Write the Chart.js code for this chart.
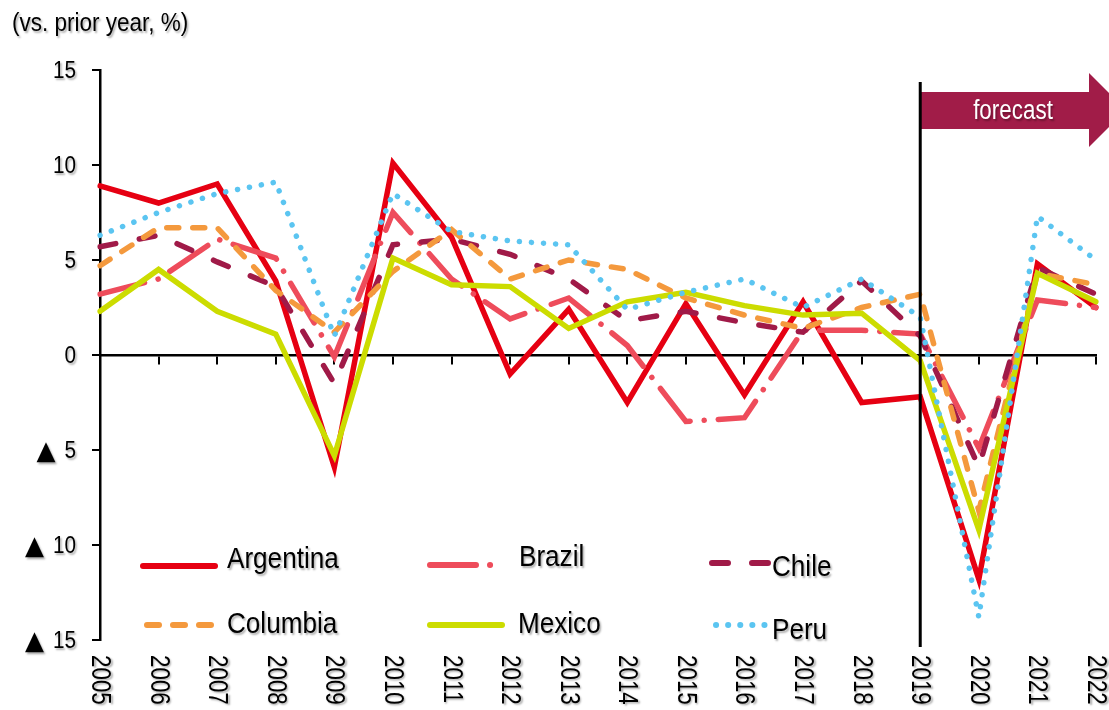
<!DOCTYPE html>
<html>
<head>
<meta charset="utf-8">
<script src="https://cdn.jsdelivr.net/npm/chart.js@4/dist/chart.umd.min.js"></script>
<style>
  html, body { margin: 0; padding: 0; background: #ffffff; }
  #wrap { width: 1109px; height: 710px; }
</style>
</head>
<body>
<div id="wrap"><canvas id="c" width="1109" height="710"></canvas></div>
<script>
// Real GDP growth, vs. prior year (%)
const years = ['2005','2006','2007','2008','2009','2010','2011','2012','2013','2014','2015','2016','2017','2018','2019','2020','2021','2022'];
const argentina = [8.9, 8.0, 9.0, 3.9, -5.9, 10.1, 6.2, -1.0, 2.4, -2.5, 2.7, -2.1, 2.8, -2.5, -2.2, -11.8, 4.8, 2.5];
const brazil    = [3.2, 4.0, 6.1, 5.1, -0.1, 7.5, 4.0, 1.9, 3.0, 0.5, -3.5, -3.3, 1.3, 1.3, 1.1, -4.9, 2.9, 2.5];
const chile     = [5.7, 6.3, 4.9, 3.6, -1.5, 5.8, 6.1, 5.3, 4.0, 1.8, 2.3, 1.7, 1.2, 3.9, 1.0, -5.9, 4.6, 3.2];
const columbia  = [4.7, 6.7, 6.7, 3.4, 1.2, 4.4, 6.6, 4.0, 5.0, 4.5, 3.0, 2.1, 1.4, 2.5, 3.2, -8.2, 4.3, 3.7];
const mexico    = [2.3, 4.5, 2.3, 1.1, -5.3, 5.1, 3.7, 3.6, 1.4, 2.8, 3.3, 2.6, 2.1, 2.2, -0.3, -9.2, 4.3, 2.8];
const peru      = [6.3, 7.5, 8.5, 9.1, 1.0, 8.5, 6.5, 6.0, 5.8, 2.4, 3.3, 4.0, 2.5, 4.0, 2.0, -13.8, 7.3, 5.0];
// tick values and their printed text; negatives carry a ▲ marker
const yTicks = [15, 10, 5, 0, -5, -10, -15];
const yTickText = ['15', '10', '5', '0', '5', '10', '15'];
const negMark = '\u25B2';
const forecastFrom = '2019';

const FONT = "'Liberation Sans', Arial, Helvetica, sans-serif";

const series = [
  { label: 'Argentina', data: argentina, color: '#E60012', dash: [],               order: 6, lx: 143, ly: 566, lw: 72, tx: 227, ty: 568 },
  { label: 'Brazil',    data: brazil,    color: '#EE4C5B', dash: [46, 14, 0.1, 14], order: 5, lx: 430, ly: 565, lw: 61, tx: 519, ty: 566 },
  { label: 'Chile',     data: chile,     color: '#A01A48', dash: [16, 24],          order: 4, lx: 712, ly: 563, lw: 58, tx: 772, ty: 576 },
  { label: 'Columbia',  data: columbia,  color: '#F4993D', dash: [12, 14],          order: 3, lx: 147, ly: 625, lw: 64, tx: 227, ty: 633 },
  { label: 'Mexico',    data: mexico,    color: '#CCDC00', dash: [],                order: 2, lx: 430, ly: 625, lw: 72, tx: 518, ty: 633 },
  { label: 'Peru',      data: peru,      color: '#5BC5F1', dash: [0.1, 12],         order: 1, lx: 716, ly: 625, lw: 54, tx: 772, ty: 639 }
];

// Draws condensed text (horizontal squeeze sx) with a soft drop shadow
function narrowText(ctx, text, x, y, size, sx, align, color, rot, family) {
  ctx.save();
  ctx.translate(x, y);
  if (rot) ctx.rotate(rot);
  ctx.scale(sx, 1);
  ctx.font = size + 'px ' + (family || FONT);
  ctx.textAlign = align;
  ctx.textBaseline = 'alphabetic';
  ctx.fillStyle = color;
  ctx.shadowColor = 'rgba(0,0,0,0.32)';
  ctx.shadowOffsetX = 1.5;
  ctx.shadowOffsetY = 1.5;
  ctx.shadowBlur = 2;
  ctx.fillText(text, 0, 0);
  const w = ctx.measureText(text).width * sx;
  ctx.restore();
  return w;
}

const decorations = {
  id: 'decorations',
  afterDatasetsDraw(chart) {
    const ctx = chart.ctx;
    const xs = chart.scales.x, ys = chart.scales.y;
    const fx = xs.getPixelForValue(years.indexOf(forecastFrom));
    // forecast arrow
    ctx.save();
    ctx.fillStyle = '#A11C48';
    ctx.beginPath();
    ctx.moveTo(fx, 92);
    ctx.lineTo(1089, 92);
    ctx.lineTo(1089, 73);
    ctx.lineTo(1126, 110);
    ctx.lineTo(1089, 147);
    ctx.lineTo(1089, 129);
    ctx.lineTo(fx, 129);
    ctx.closePath();
    ctx.fill();
    ctx.restore();
    narrowText(ctx, 'forecast', 1013, 119, 27, 0.83, 'center', '#ffffff');
    // forecast divider
    ctx.save();
    ctx.strokeStyle = '#000000';
    ctx.lineWidth = 3;
    ctx.beginPath();
    ctx.moveTo(fx, 82);
    ctx.lineTo(fx, ys.bottom + 7);
    ctx.stroke();
    ctx.restore();
  },
  afterDraw(chart) {
    const ctx = chart.ctx;
    const xs = chart.scales.x, ys = chart.scales.y;
    // unit caption
    narrowText(ctx, '(vs. prior year, %)', 12, 31, 25, 0.9, 'left', '#000000');
    // y tick labels
    yTicks.forEach((v, i) => {
      const py = ys.getPixelForValue(v);
      const w = narrowText(ctx, yTickText[i], 76, py + 8.3, 23, 0.9, 'right', '#000000');
      if (v < 0) {
        narrowText(ctx, negMark, 76 - w - 9, py + 9, 26, 0.95, 'right', '#000000', 0, "'DejaVu Sans', sans-serif");
      }
    });
    // x tick labels, rotated to read downward
    years.forEach((yr, i) => {
      const px = xs.getPixelForValue(i);
      narrowText(ctx, yr, px - 8, 655, 28, 0.8, 'left', '#000000', Math.PI / 2);
    });
    // legend
    series.forEach(s => {
      ctx.save();
      ctx.strokeStyle = s.color;
      ctx.lineWidth = 6;
      ctx.lineCap = 'round';
      ctx.setLineDash(s.dash);
      ctx.beginPath();
      ctx.moveTo(s.lx, s.ly);
      ctx.lineTo(s.lx + s.lw, s.ly);
      ctx.stroke();
      ctx.restore();
      narrowText(ctx, s.label, s.tx, s.ty, 30, 0.87, 'left', '#000000');
    });
  }
};

new Chart(document.getElementById('c'), {
  type: 'line',
  data: {
    labels: years,
    datasets: series.map(s => ({
      label: s.label,
      data: s.data,
      borderColor: s.color,
      backgroundColor: s.color,
      borderWidth: 5.5,
      borderDash: s.dash,
      borderCapStyle: 'round',
      borderJoinStyle: 'miter',
      pointRadius: 0,
      pointHoverRadius: 0,
      tension: 0,
      fill: false,
      order: s.order
    }))
  },
  options: {
    responsive: false,
    animation: false,
    devicePixelRatio: 1,
    layout: { padding: { left: 92, right: 13, top: 70, bottom: 70 } },
    plugins: { legend: { display: false }, tooltip: { enabled: false } },
    scales: {
      x: {
        type: 'category',
        offset: false,
        position: { y: 0 },
        ticks: { display: false },
        grid: { display: true, drawOnChartArea: false, drawTicks: true, tickLength: 8, color: '#000000', lineWidth: 2 },
        border: { display: true, color: '#000000', width: 2.5 }
      },
      y: {
        min: -15,
        max: 15,
        ticks: { display: false, stepSize: 5 },
        grid: { display: true, drawOnChartArea: false, drawTicks: true, tickLength: 8, color: '#000000', lineWidth: 2 },
        border: { display: true, color: '#000000', width: 2.5 }
      }
    }
  },
  plugins: [decorations]
});
</script>
</body>
</html>
